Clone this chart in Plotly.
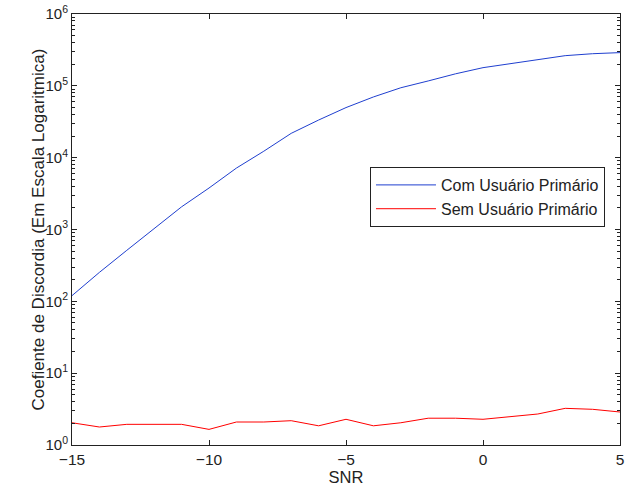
import plotly.graph_objects as go

snr = list(range(-15, 6))
com_usuario = [120, 253, 513, 1030, 2070, 3780, 7160, 12300, 21800, 33400, 49800,
               70000, 94000, 117000, 147000, 179000, 204000, 230000, 263000, 280000, 290000]
sem_usuario = [2.04, 1.78, 1.94, 1.94, 1.94, 1.65, 2.09, 2.09, 2.18, 1.85, 2.28,
               1.85, 2.04, 2.36, 2.36, 2.28, 2.48, 2.70, 3.24, 3.14, 2.88]

x_ticks = [-15, -10, -5, 0, 5]
x_tick_labels = ["\u221215", "\u221210", "\u22125", "0", "5"]
y_ticks = [1, 10, 100, 1e3, 1e4, 1e5, 1e6]
y_tick_labels = ["10<sup>0</sup>", "10<sup>1</sup>", "10<sup>2</sup>", "10<sup>3</sup>",
                 "10<sup>4</sup>", "10<sup>5</sup>", "10<sup>6</sup>"]
y_title = "Coefiente de Discordia (Em Escala Logaritmica)"

font_family = "Liberation Sans, Arial, Helvetica, sans-serif"

fig = go.Figure()
fig.add_trace(go.Scatter(x=snr, y=com_usuario, mode="lines", name="Com Usuário Primário",
                         line=dict(color="#1f3fcf", width=1)))
fig.add_trace(go.Scatter(x=snr, y=sem_usuario, mode="lines", name="Sem Usuário Primário",
                         line=dict(color="#ff0000", width=1)))

fig.update_layout(
    width=640, height=494,
    margin=dict(l=72, r=20, t=14, b=49, autoexpand=False),
    paper_bgcolor="white", plot_bgcolor="white",
    font=dict(family=font_family, size=15, color="#222222"),
    showlegend=True,
    legend=dict(x=0.9726, y=0.645, xanchor="right", yanchor="top",
                bordercolor="#222222", borderwidth=1, bgcolor="white",
                font=dict(size=16), tracegroupgap=0, itemwidth=60),
    annotations=[dict(text=y_title, xref="paper", yref="paper", x=-0.062, y=0.5,
                      xanchor="center", yanchor="middle", textangle=-90,
                      showarrow=False, font=dict(size=17))],
)
fig.update_xaxes(
    range=[-15, 5], tickvals=x_ticks, ticktext=x_tick_labels,
    showgrid=False, zeroline=False, showline=True, linecolor="#222222", linewidth=1,
    mirror="ticks", ticks="inside", ticklen=5, tickcolor="#222222", automargin=False,
    title=dict(text="SNR", standoff=2, font=dict(size=16.5)), tickfont=dict(size=15.5),
)
fig.update_yaxes(
    type="log", range=[0, 6], tickvals=y_ticks, ticktext=y_tick_labels,
    showgrid=False, zeroline=False, showline=True, linecolor="#222222", linewidth=1,
    mirror="ticks", ticks="inside", ticklen=5, tickcolor="#222222", automargin=False,
    minor=dict(ticks="inside", ticklen=3, tickcolor="#222222", dtick="D1", showgrid=False),
    tickfont=dict(size=15),
)

fig.write_html("out.html", post_script="document.body.style.margin='0';",
               config={"displayModeBar": False})
